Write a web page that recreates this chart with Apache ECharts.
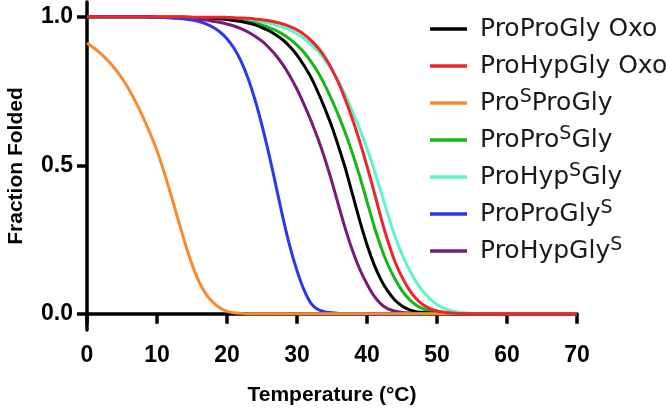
<!DOCTYPE html>
<html>
<head>
<meta charset="utf-8">
<script src="https://cdn.jsdelivr.net/npm/echarts@6/dist/echarts.min.js"></script>
<style>
html,body{margin:0;padding:0;background:#fff;}
#chart{width:666px;height:409px;}
</style>
</head>
<body>
<div id="chart"></div>
<script>
// Temperatures (°C)
const temps = [
  0,1,2,3,4,5,6,7,8,9,
  10,11,12,13,14,15,16,17,18,19,
  20,21,22,23,24,25,26,27,28,29,
  30,31,32,33,34,35,36,37,38,39,
  40,41,42,43,44,45,46,47,48,49,
  50,51,52,53,54,55,56,57,58,59,
  60,61,62,63,64,65,66,67,68,69,
  70
];

const seriesNames = ['ProProGly Oxo','ProHypGly Oxo','ProSProGly','ProProSGly','ProHypSGly','ProProGlyS','ProHypGlyS'];
const legendLabels = ['{n|ProProGly Oxo}','{n|ProHypGly Oxo}','{n|Pro}{s|S}{n|ProGly}','{n|ProPro}{s|S}{n|Gly}','{n|ProHyp}{s|S}{n|Gly}','{n|ProProGly}{s|S}','{n|ProHypGly}{s|S}'];

const proProGlyOxo = [
  1,1,1,1,1,1,1,1,1,1,
  0.999,0.999,0.999,0.999,0.998,0.998,0.997,0.996,0.995,0.993,
  0.991,0.988,0.984,0.979,0.973,0.964,0.953,0.939,0.922,0.899,
  0.871,0.836,0.796,0.746,0.69,0.629,0.558,0.482,0.396,0.31,
  0.232,0.166,0.114,0.075,0.045,0.026,0.014,0.007,0.004,0.002,
  0.001,0,0,0,0,0,0,0,0,0,
  0,0,0,0,0,0,0,0,0,0,
  0
];
const proHypGlyOxo = [
  1,1,1,1,1,1,1,1,1,1,
  1,1,1,1,1,0.999,0.999,0.999,0.999,0.999,
  0.998,0.997,0.996,0.995,0.993,0.99,0.987,0.982,0.976,0.967,
  0.956,0.941,0.921,0.896,0.864,0.823,0.774,0.715,0.65,0.577,
  0.497,0.412,0.323,0.243,0.175,0.123,0.082,0.051,0.03,0.017,
  0.009,0.005,0.002,0.001,0,0,0,0,0,0,
  0,0,0,0,0,0,0,0,0,0,
  0
];
const proSProGly = [
  0.912,0.895,0.875,0.852,0.825,0.793,0.755,0.711,0.662,0.608,
  0.549,0.478,0.4,0.318,0.238,0.166,0.108,0.066,0.038,0.019,
  0.008,0.003,0.001,0,0,0,0,0,0,0,
  0,0,0,0,0,0,0,0,0,0,
  0,0,0,0,0,0,0,0,0,0,
  0,0,0,0,0,0,0,0,0,0,
  0,0,0,0,0,0,0,0,0,0,
  0
];
const proProSGly = [
  1,1,1,1,1,1,1,1,1,1,
  0.999,0.999,0.999,0.999,0.998,0.998,0.997,0.996,0.995,0.994,
  0.992,0.99,0.987,0.983,0.979,0.972,0.964,0.954,0.941,0.925,
  0.905,0.88,0.849,0.813,0.769,0.719,0.664,0.603,0.535,0.46,
  0.378,0.296,0.224,0.164,0.117,0.078,0.049,0.029,0.016,0.009,
  0.005,0.002,0.001,0,0,0,0,0,0,0,
  0,0,0,0,0,0,0,0,0,0,
  0
];
const proHypSGly = [
  1,1,1,1,1,1,1,1,1,1,
  1,1,1,1,1,0.999,0.998,0.998,0.997,0.996,
  0.995,0.994,0.992,0.99,0.987,0.983,0.979,0.972,0.965,0.955,
  0.942,0.927,0.907,0.884,0.854,0.819,0.779,0.731,0.677,0.62,
  0.557,0.487,0.41,0.333,0.261,0.2,0.15,0.108,0.075,0.05,
  0.031,0.018,0.01,0.005,0.003,0.001,0,0,0,0,
  0,0,0,0,0,0,0,0,0,0,
  0
];
const proProGlyS = [
  1,1,1,1,1,1,1,1,1,0.999,
  0.998,0.998,0.997,0.995,0.993,0.989,0.984,0.976,0.965,0.949,
  0.926,0.894,0.851,0.793,0.721,0.634,0.537,0.43,0.322,0.225,
  0.145,0.08,0.035,0.014,0.006,0.003,0.001,0,0,0,
  0,0,0,0,0,0,0,0,0,0,
  0,0,0,0,0,0,0,0,0,0,
  0,0,0,0,0,0,0,0,0,0,
  0
];
const proHypGlyS = [
  1,1,1,1,1,1,1,1,1,0.999,
  0.998,0.998,0.997,0.996,0.995,0.993,0.991,0.989,0.985,0.981,
  0.976,0.969,0.96,0.949,0.935,0.918,0.896,0.87,0.838,0.8,
  0.756,0.705,0.65,0.589,0.52,0.443,0.36,0.279,0.208,0.148,
  0.1,0.06,0.032,0.016,0.008,0.004,0.002,0.001,0,0,
  0,0,0,0,0,0,0,0,0,0,
  0,0,0,0,0,0,0,0,0,0,
  0
];

const xTicks = [0,10,20,30,40,50,60,70];
const yTicks = [0,0.5,1];

const allValues = [proProGlyOxo, proHypGlyOxo, proSProGly, proProSGly, proHypSGly, proProGlyS, proHypGlyS];
const colors = ['#000000','#f0242b','#f98a2e','#14b814','#5df5c7','#2a36ef','#7a1a78'];
const zOrder = [4, 8, 7, 3, 2, 6, 5];

const chart = echarts.init(document.getElementById('chart'), null, {renderer:'canvas'});

const series = seriesNames.map((name, i) => ({
  name: name,
  type: 'line',
  data: temps.map((t, j) => [t, allValues[i][j]]),
  showSymbol: false,
  symbol: 'none',
  smooth: 0.2,
  z: zOrder[i],
  lineStyle: {color: colors[i], width: 3},
  itemStyle: {color: colors[i]},
  emphasis: {disabled: true},
  animation: false
}));

const labelMap = {};
seriesNames.forEach((n, i) => { labelMap[n] = legendLabels[i]; });

chart.setOption({
  animation: false,
  backgroundColor: '#ffffff',
  grid: {left: 87, right: 89, top: 2, bottom: 79, containLabel: false, outerBoundsMode: 'none'},
  xAxis: {
    type: 'value', min: 0, max: 70, interval: 10,
    name: 'Temperature (°C)', nameLocation: 'middle', nameGap: 55,
    nameTextStyle: {fontFamily: 'Liberation Sans', fontWeight: 'bold', fontSize: 21, color: '#000'},
    axisLine: {show: true, lineStyle: {color: '#000', width: 3.5}},
    axisTick: {show: true, length: 10, lineStyle: {color: '#000', width: 3.5}, customValues: xTicks},
    axisLabel: {fontFamily: 'Liberation Sans', fontWeight: 'bold', fontSize: 23, color: '#000', margin: 14, customValues: xTicks},
    splitLine: {show: false}
  },
  yAxis: {
    type: 'value', min: -0.055, max: 1.05,
    name: 'Fraction Folded', nameLocation: 'middle', nameGap: 60, nameRotate: 90,
    nameTextStyle: {fontFamily: 'Liberation Sans', fontWeight: 'bold', fontSize: 21, color: '#000'},
    axisLine: {show: true, lineStyle: {color: '#000', width: 3.5}},
    axisTick: {show: true, length: 10, lineStyle: {color: '#000', width: 3.5}, customValues: yTicks},
    axisLabel: {fontFamily: 'Liberation Sans', fontWeight: 'bold', fontSize: 23, color: '#000', margin: 14,
      customValues: yTicks, formatter: v => v.toFixed(1)},
    splitLine: {show: false}
  },
  legend: {
    orient: 'vertical', left: 425, top: 9,
    icon: 'rect', itemWidth: 37, itemHeight: 3.5, itemGap: 7,
    data: seriesNames,
    formatter: name => labelMap[name],
    textStyle: {
      fontFamily: 'DejaVu Sans', fontSize: 25, color: '#1a1a1a', lineHeight: 30,
      padding: [0, 0, 0, 8],
      rich: {
        n: {fontFamily: 'DejaVu Sans', fontSize: 25, color: '#1a1a1a', lineHeight: 30},
        s: {fontFamily: 'DejaVu Sans', fontSize: 19, color: '#1a1a1a', lineHeight: 18, verticalAlign: 'top'}
      }
    }
  },
  series: series
});
</script>
</body>
</html>
